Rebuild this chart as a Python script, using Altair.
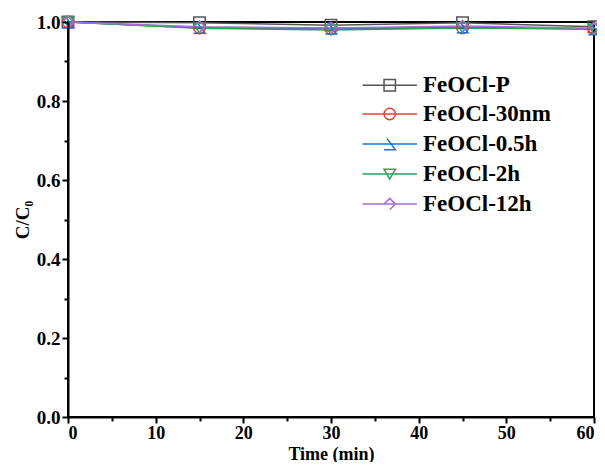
import altair as alt
import pandas as pd

times = [0, 15, 30, 45, 60]
series_names = ["FeOCl-P", "FeOCl-30nm", "FeOCl-0.5h", "FeOCl-2h", "FeOCl-12h"]
v_P = [1.0, 0.998, 0.992, 0.998, 0.988]
v_30nm = [1.0, 0.985, 0.983, 0.985, 0.983]
v_05h = [1.0, 0.986, 0.984, 0.987, 0.982]
v_2h = [1.0, 0.984, 0.980, 0.985, 0.982]
v_12h = [1.0, 0.988, 0.985, 0.990, 0.984]
colors = ["#555555", "#ef3b36", "#1a6fd8", "#27a35a", "#a46ee0"]
shapes = ["square", "circle", "M-0.5,-1L1,1L-1,1", "triangle-down", "M-1,0L0,-1L1,0L0,1"]

# legend placement (data coordinates)
leg_y = [0.840, 0.767, 0.691, 0.615, 0.539]
leg_x0, leg_x1, leg_xm, leg_xt = 33.6, 39.8, 36.7, 40.5

rows = []
for name, vals in zip(series_names, [v_P, v_30nm, v_05h, v_2h, v_12h]):
    for t, v in zip(times, vals):
        rows.append({"series": name, "t": t, "v": v})
df = pd.DataFrame(rows)

leg = pd.DataFrame({"series": series_names, "y": leg_y,
                    "x0": [leg_x0] * 5, "x1": [leg_x1] * 5,
                    "xm": [leg_xm] * 5, "xt": [leg_xt] * 5})

FONT = "Liberation Serif"
xs = alt.Scale(domain=[0, 60], nice=False)
ys = alt.Scale(domain=[0, 1.0], nice=False)
col = alt.Color("series:N", scale=alt.Scale(domain=series_names, range=colors), legend=None)
shp = alt.Shape("series:N", scale=alt.Scale(domain=series_names, range=shapes), legend=None)

base = alt.Chart(df)

lines = base.mark_line(strokeWidth=1.5).encode(
    x=alt.X("t:Q", scale=xs, axis=alt.Axis(
        orient="bottom", values=[0, 10, 20, 30, 40, 50, 60], title="Time (min)", tickSize=6,
        labelFont=FONT, labelFontSize=18, labelFontWeight="bold", labelColor="black",
        titleFont=FONT, titleFontSize=18, titleFontWeight="bold", titleColor="black",
        titleBaseline="alphabetic", titleY=42,
        labelPadding=1, domainColor="black", domainWidth=2,
        tickColor="black", tickWidth=2, grid=False, zindex=1)),
    y=alt.Y("v:Q", scale=ys, axis=alt.Axis(
        orient="left", values=[0, 0.2, 0.4, 0.6, 0.8, 1.0], format=".1f", title="C/C₀", tickSize=6,
        labelFont=FONT, labelFontSize=19, labelFontWeight="bold", labelColor="black",
        titleFont=FONT, titleFontSize=19, titleFontWeight="bold", titleColor="black",
        titlePadding=4, labelPadding=2, domainColor="black", domainWidth=2,
        tickColor="black", tickWidth=2, grid=False, zindex=1)),
    color=col, detail="series:N")

minor = base.mark_point(opacity=0).encode(
    x=alt.X("t:Q", scale=xs, axis=alt.Axis(
        orient="bottom", values=[5, 15, 25, 35, 45, 55], labels=False, title=None, tickSize=4,
        domain=False, tickColor="black", tickWidth=2, grid=False)),
    y=alt.Y("v:Q", scale=ys, axis=alt.Axis(
        orient="left", values=[0.1, 0.3, 0.5, 0.7, 0.9], labels=False, title=None, tickSize=4,
        domain=False, tickColor="black", tickWidth=2, grid=False)))

points = base.mark_point(filled=False, size=130, strokeWidth=1.5, opacity=1).encode(
    x=alt.X("t:Q", scale=xs), y=alt.Y("v:Q", scale=ys), color=col, shape=shp)

lb = alt.Chart(leg)
leg_lines = lb.mark_rule(strokeWidth=1.5).encode(
    x=alt.X("x0:Q", scale=xs), x2="x1:Q", y=alt.Y("y:Q", scale=ys), color=col)
leg_pts = lb.mark_point(filled=False, size=130, strokeWidth=1.5, opacity=1).encode(
    x=alt.X("xm:Q", scale=xs), y=alt.Y("y:Q", scale=ys), color=col, shape=shp)
leg_txt = lb.mark_text(align="left", baseline="middle", font=FONT, fontSize=23,
                       fontWeight="bold", color="black").encode(
    x=alt.X("xt:Q", scale=xs), y=alt.Y("y:Q", scale=ys), text="series:N")

main = alt.layer(lines, points, leg_lines, leg_pts, leg_txt)

chart = alt.layer(main, minor).resolve_axis(x="independent", y="independent").properties(
    width=526, height=395,
    autosize=alt.AutoSizeParams(type="none"),
    padding={"left": 60, "top": 14, "right": 3, "bottom": 45},
).configure_view(stroke="black", strokeWidth=2)

chart.save("out.html", embed_options={"renderer": "svg", "actions": False})
